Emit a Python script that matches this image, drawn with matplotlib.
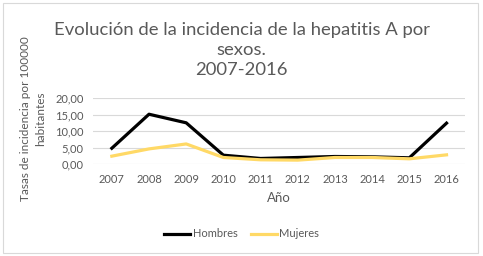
import matplotlib.pyplot as plt
from matplotlib.patches import Rectangle

plt.rcParams['font.family'] = ['Lato', 'DejaVu Sans']

years = ['2007', '2008', '2009', '2010', '2011', '2012', '2013', '2014', '2015', '2016']
hombres = [4.8, 15.1, 12.5, 2.7, 1.7, 2.0, 2.3, 2.2, 1.9, 12.4]
mujeres = [2.4, 4.6, 6.1, 2.0, 1.3, 1.2, 2.0, 2.0, 1.6, 2.8]

text_color = '#595959'

fig = plt.figure(figsize=(4.83, 2.56), dpi=100)
ax = fig.add_axes([0.193, 0.359, 0.77, 0.258])

x = range(len(years))
ax.plot(x, hombres, color='black', linewidth=2.3, label='Hombres')
ax.plot(x, mujeres, color='#FFD966', linewidth=2.3, label='Mujeres')

ax.set_xlim(-0.5, len(years) - 0.5)
ax.set_ylim(0, 20)
ax.set_yticks([0, 5, 10, 15, 20])
ax.set_yticklabels(['0,00', '5,00', '10,00', '15,00', '20,00'])
ax.set_xticks(list(x))
ax.set_xticklabels(years)
ax.tick_params(length=0, labelsize=8, colors=text_color, pad=7)
ax.grid(axis='y', color='#D9D9D9', linewidth=0.8)
ax.set_axisbelow(True)
for s in ax.spines.values():
    s.set_visible(False)

ax.set_xlabel('Año', fontsize=9.5, color=text_color, labelpad=5)
fig.text(0.069, 0.535, 'Tasas de incidencia por 100000\nhabitantes', rotation=90,
         ha='center', va='center', fontsize=8.5, color=text_color,
         multialignment='center', linespacing=1.45)

fig.text(0.5, 0.805, 'Evolución de la incidencia de la hepatitis A por\nsexos.\n2007-2016',
         ha='center', va='center', fontsize=13.3, color=text_color, linespacing=1.3)

leg = fig.legend(loc='center', bbox_to_anchor=(0.5, 0.086), ncol=2, frameon=False,
                 fontsize=8, handlelength=2.4, handletextpad=0.2, columnspacing=1.2)
for t in leg.get_texts():
    t.set_color(text_color)

fig.patches.append(Rectangle((0.006, 0.012), 0.984, 0.976, transform=fig.transFigure,
                             fill=False, edgecolor='#D9D9D9', linewidth=0.8))

fig.savefig('out.png', dpi=100)
